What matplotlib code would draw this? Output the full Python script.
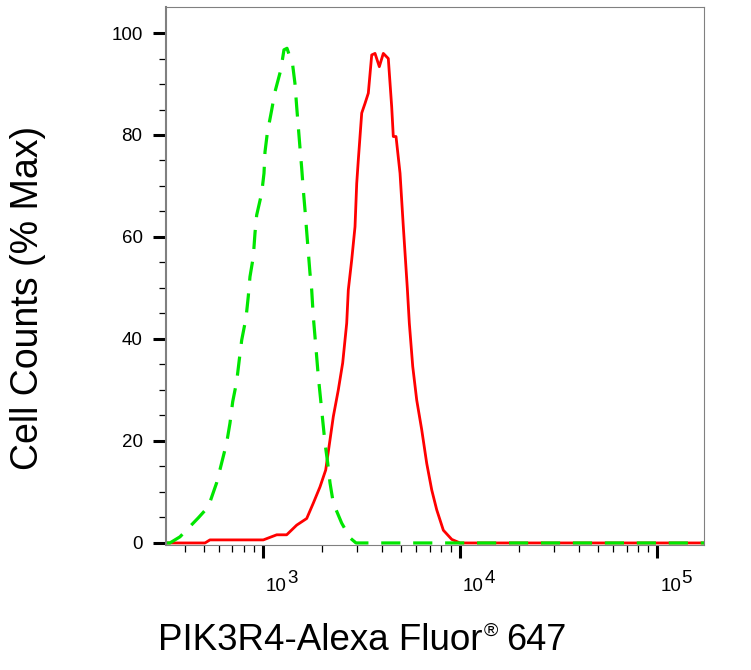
import numpy as np
import matplotlib.pyplot as plt
from matplotlib.ticker import NullFormatter

plt.rcParams['font.family'] = ['Liberation Sans', 'DejaVu Sans']

# PIK3R4 stained sample (red, solid)
sample_x = [322, 508, 538, 1004, 1174, 1319, 1483, 1667, 1800, 1947, 2081, 2188,
            2275, 2411, 2538, 2660, 2710, 2820, 2931, 2990, 3046, 3170, 3295,
            3424, 3563, 3703, 3894, 4080, 4325, 4500, 4585, 4733, 4960, 5155,
            5402, 5529, 5754, 6029, 6391, 6776, 7184, 7615, 8228, 9077, 10000,
            173000]
sample_y = [0, 0, 0.6, 0.6, 1.6, 1.6, 3.5, 4.8, 7.8, 11.0, 14.3, 20.2,
            24.8, 30.0, 35.3, 43.1, 49.6, 55.5, 62.0, 70.5, 75.1, 84.3, 86.2,
            88.2, 95.7, 96.0, 93.4, 96.0, 95.0, 85.5, 79.7, 79.7, 72.5, 62.0,
            49.9, 43.1, 34.6, 28.0, 22.2, 15.6, 10.4, 6.5, 2.5, 0.7, 0,
            0]

# isotype control (green, dashed)
control_x = [322, 337, 379, 469, 528, 582, 617, 654, 680, 702, 735, 758, 780,
             820, 842, 859, 893, 911, 929, 985, 1012, 1024, 1052, 1107, 1151,
             1230, 1278, 1324, 1415, 1453, 1483, 1511, 1541, 1572, 1602, 1634,
             1667, 1698, 1732, 1767, 1800, 1836, 1873, 1909, 1963, 2009, 2064,
             2130, 2188, 2275, 2508, 2765, 2965, 173000]
control_y = [0, 0, 1.2, 4.9, 7.1, 11.8, 15.7, 19.6, 23.5, 27.7, 31.6, 35.9, 39.8,
             44.1, 48.3, 52.2, 56.1, 60.8, 64.3, 68.6, 72.5, 76.7, 80.4, 84.9, 88.5,
             92.7, 96.7, 97.0, 93.7, 90.1, 85.5, 81.6, 77.5, 73.5, 69.2, 65.3,
             61.0, 57.1, 52.9, 49.6, 44.4, 40.5, 36.5, 32.6, 28.0, 24.1, 19.6,
             15.7, 11.8, 7.8, 3.9, 1.0, 0, 0]

y_major = [0, 20, 40, 60, 80, 100]
y_minor = list(range(0, 105, 5))
x_decades = [3, 4, 5]

W, H = 751, 670
fig = plt.figure(figsize=(W / 100, H / 100), dpi=100)
ax = fig.add_axes([166 / W, 1 - 545 / H, (704 - 166) / W, (545 - 7) / H])

ax.plot(sample_x, sample_y, color='#ff0000', lw=2.0, solid_joinstyle='round')
ax.plot(control_x, control_y, color='#00e600', lw=2.3, dashes=(6, 4))

ax.set_xscale('log')
ax.set_xlim(322, 173000)
ax.set_ylim(-0.4, 105.1)

# ticks
ax.set_yticks(y_major)
ax.set_yticks(y_minor, minor=True)
ax.set_xticks([10.0 ** d for d in x_decades])
ax.set_xticks([k * 10.0 ** d for d in (2, 3, 4, 5) for k in range(2, 10)
               if 322 < k * 10.0 ** d < 173000], minor=True)
ax.xaxis.set_major_formatter(NullFormatter())
ax.xaxis.set_minor_formatter(NullFormatter())
ax.tick_params(which='major', direction='out', length=9.4, width=2.2, color='black')
ax.tick_params(which='minor', direction='out', length=5.3, width=0.9, color='black')
ax.tick_params(axis='y', labelsize=13.5, pad=7.5)

# decade labels: "10" with a full-size raised exponent
xax = ax.get_xaxis_transform()
for d in x_decades:
    ax.annotate('10', xy=(10.0 ** d, 0), xycoords=xax, xytext=(2.2, -33),
                textcoords='offset points', ha='left', va='baseline',
                fontsize=13.5, annotation_clip=False)
    ax.annotate(str(d), xy=(10.0 ** d, 0), xycoords=xax, xytext=(17.4, -27.1),
                textcoords='offset points', ha='left', va='baseline',
                fontsize=13.5, annotation_clip=False)

for side in ['top', 'right', 'bottom']:
    ax.spines[side].set_color('#808080')
    ax.spines[side].set_linewidth(0.8)
ax.spines['left'].set_color('#808080')
ax.spines['left'].set_linewidth(1.5)

fig.text(28 / W, 1 - 298 / H, 'Cell Counts (% Max)', rotation=90,
         fontsize=27, ha='center', va='center')

# x label built from pieces so the (R) mark stays small and raised
base_y = 1 - 650 / H
t1 = fig.text(158 / W, base_y, 'PIK3R4-Alexa Fluor', fontsize=26.5,
              ha='left', va='baseline')
t2 = fig.add_artist(plt.Annotation('®', xy=(1, base_y), xycoords=(t1, 'figure fraction'),
                                   xytext=(1.2, 10), textcoords='offset points',
                                   fontsize=14, ha='left', va='baseline'))
t3 = fig.add_artist(plt.Annotation('647', xy=(1, base_y), xycoords=(t2, 'figure fraction'),
                                   xytext=(5.5, 0), textcoords='offset points',
                                   fontsize=26, ha='left', va='baseline'))

fig.savefig('out.png', dpi=100)
